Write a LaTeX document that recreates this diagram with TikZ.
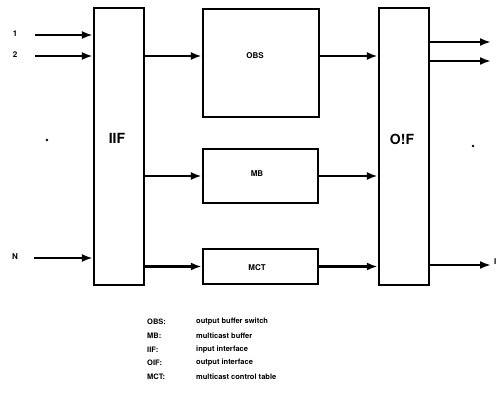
\documentclass[tikz,border=0pt]{standalone}
\usepackage{fontspec}
\setmainfont{TeX Gyre Heros}
\usetikzlibrary{arrows.meta}
\begin{document}
\begin{tikzpicture}[x=1pt,y=-1pt,
  box/.style={draw, line width=2.3pt, inner sep=0pt},
  arr/.style={line width=2.1pt, -{Latex[length=11pt,width=8pt]}},
  big/.style={font=\fontsize{14}{16}\selectfont\bfseries},
  small/.style={font=\fontsize{8}{9}\selectfont\bfseries},
  leg/.style={font=\fontsize{7.5}{9}\selectfont\bfseries, anchor=west, inner sep=0pt},
  dotm/.style={circle, fill, inner sep=0pt, minimum size=2.6pt}]
\useasboundingbox (0,0) rectangle (498,406);
% boxes
\node[box, minimum width=50pt, minimum height=277pt] (IIF) at (119,146.5) {};
\node[box, minimum width=116pt, minimum height=108pt] (OBS) at (261,63) {};
\node[box, minimum width=115pt, minimum height=54pt] (MB) at (260.5,176) {};
\node[box, minimum width=115pt, minimum height=35pt] (MCT) at (260.5,266.5) {};
\node[box, minimum width=50pt, minimum height=277pt] (OIF) at (404,146.5) {};
% box labels
\node[big] (IIFl) at (117,138) {IIF};
\node[big] (OIFl) at (402,139) {O!F};
\node[small] (OBSl) at (255,56) {OBS};
\node[small] (MBl) at (257,174) {MB};
\node[small] (MCTl) at (257,268) {MCT};
% inputs
\node[small] (l1) at (15,34) {1};
\node[small] (l2) at (15,55) {2};
\node[small] (lN) at (15,257) {N};
\coordinate (i1) at (35,35);
\coordinate (i2) at (35,56);
\coordinate (iN) at (34,258);
\draw[arr] (i1) -- (i1 -| IIF.west);
\draw[arr] (i2) -- (i2 -| IIF.west);
\draw[arr] (iN) -- (iN -| IIF.west);
% internal
\draw[arr] (IIF.east |- OBSl) -- (OBS.west |- OBSl);
\draw[arr] (IIF.east |- MB) -- (MB.west);
\draw[arr] (IIF.east |- MCT) -- (MCT.west);
\draw[arr] (OBS.east |- OBSl) -- (OIF.west |- OBSl);
\draw[arr] (MB.east) -- (OIF.west |- MB);
\draw[arr] (MCT.east) -- (OIF.west |- MCT);
% outputs
\coordinate (o1) at (491,42);
\coordinate (o2) at (491,61);
\coordinate (oN) at (491,265);
\draw[arr] (OIF.east |- o1) -- (o1);
\draw[arr] (OIF.east |- o2) -- (o2);
\draw[arr] (OIF.east |- oN) -- (oN);
\node[small, anchor=west, inner sep=0pt] (lI) at (494,262) {I};
% dots
\node[dotm] (d1) at (47,140) {};
\node[dotm] (d2) at (473,146) {};
% legend
\node[leg] (a1) at (147,322) {OBS:};
\node[leg] (a2) at (147,336) {MB:};
\node[leg] (a3) at (147,350) {IIF:};
\node[leg] (a4) at (147,363) {OIF:};
\node[leg] (a5) at (147,377) {MCT:};
\node[leg] (b1) at (196,322) {output buffer switch};
\node[leg] (b2) at (196,336) {multicast buffer};
\node[leg] (b3) at (196,350) {input interface};
\node[leg] (b4) at (196,363) {output interface};
\node[leg] (b5) at (196,377) {multicast control table};
\end{tikzpicture}
\end{document}
